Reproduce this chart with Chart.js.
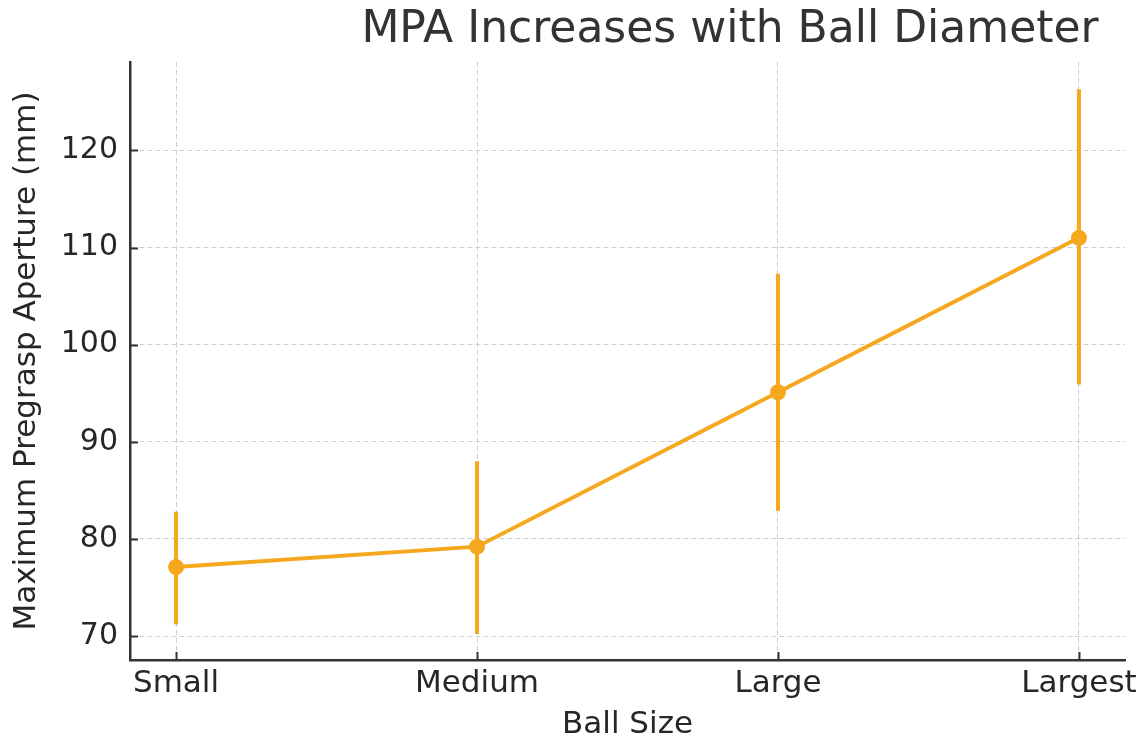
<!DOCTYPE html>
<html>
<head>
<meta charset="utf-8">
<script src="https://cdn.jsdelivr.net/npm/chart.js@4.4.1/dist/chart.umd.min.js"></script>
<style>
  html, body { margin: 0; padding: 0; background: #fff; }
  #wrap { width: 1148px; height: 744px; }
</style>
</head>
<body>
<div id="wrap"><canvas id="c" width="1148" height="744"></canvas></div>
<script>
/* MPA vs ball size — mean with error bars */
const sizes = ["Small", "Medium", "Large", "Largest"];
const mpaMean = [77.1, 79.2, 95.1, 111.0];
const errLow = [71.2, 70.2, 82.9, 95.9];
const errHigh = [82.8, 88.0, 107.3, 126.3];
const yTicks = [70, 80, 90, 100, 110, 120];

const ORANGE = "#f5a81e";
const FONT = "'DejaVu Sans', sans-serif";

// vertical error bars, drawn under the markers
const errorBars = {
  id: "errorBars",
  beforeDatasetsDraw(chart) {
    const { ctx, scales: { x, y } } = chart;
    ctx.save();
    ctx.strokeStyle = ORANGE;
    ctx.lineWidth = 4;
    sizes.forEach((s, i) => {
      const px = x.getPixelForValue(i);
      ctx.beginPath();
      ctx.moveTo(px, y.getPixelForValue(errLow[i]));
      ctx.lineTo(px, y.getPixelForValue(errHigh[i]));
      ctx.stroke();
    });
    ctx.restore();
  }
};

// short inward tick marks + title
const decor = {
  id: "decor",
  afterDraw(chart) {
    const { ctx, chartArea: a, scales: { x, y } } = chart;
    ctx.save();
    ctx.strokeStyle = "#333";
    ctx.lineWidth = 2;
    ctx.beginPath();
    y.ticks.forEach(t => {
      const py = Math.round(y.getPixelForValue(t.value)) + 0.5;
      ctx.moveTo(a.left, py); ctx.lineTo(a.left + 8, py);
    });
    x.ticks.forEach(t => {
      const px = Math.round(x.getPixelForValue(t.value)) + 0.5;
      ctx.moveTo(px, a.bottom); ctx.lineTo(px, a.bottom - 8);
    });
    ctx.stroke();

    ctx.fillStyle = "#333";
    ctx.font = "44px " + FONT;
    ctx.textAlign = "center";
    ctx.textBaseline = "middle";
    ctx.fillText("MPA Increases with Ball Diameter", 730, 31);
    ctx.restore();
  }
};

new Chart(document.getElementById("c"), {
  type: "line",
  data: {
    datasets: [{
      data: mpaMean.map((v, i) => ({ x: i, y: v })),
      borderColor: ORANGE,
      backgroundColor: ORANGE,
      borderWidth: 4,
      pointRadius: 8,
      pointBorderWidth: 0,
      pointBackgroundColor: ORANGE,
      tension: 0
    }]
  },
  options: {
    responsive: false,
    animation: false,
    layout: { padding: { top: 62, right: 23, left: 0, bottom: 0 } },
    plugins: { legend: { display: false }, tooltip: { enabled: false } },
    scales: {
      x: {
        type: "linear",
        min: -0.153,
        max: 3.153,
        afterBuildTicks: s => { s.ticks = sizes.map((_, i) => ({ value: i })); },
        afterFit: s => { s.height = 84; },
        ticks: {
          callback: v => sizes[v],
          color: "#262626",
          font: { family: FONT, size: 31 },
          padding: 5,
          maxRotation: 0,
          autoSkip: false
        },
        grid: { color: "#cdcdcd", lineWidth: 1, drawTicks: false },
        border: { color: "#333", width: 2.5, dash: [5, 3] },
        title: {
          display: true, text: "Ball Size", color: "#262626",
          font: { family: FONT, size: 31 }, padding: { top: 0, bottom: 0 }
        }
      },
      y: {
        min: 67.53,
        max: 129.1,
        afterBuildTicks: s => { s.ticks = yTicks.map(v => ({ value: v })); },
        afterFit: s => { s.width = 130; },
        ticks: {
          color: "#262626",
          font: { family: FONT, size: 30 },
          padding: 12
        },
        grid: { color: "#cdcdcd", lineWidth: 1, drawTicks: false },
        border: { color: "#333", width: 2.5, dash: [5, 3] },
        title: {
          display: true, text: "Maximum Pregrasp Aperture (mm)", color: "#262626",
          font: { family: FONT, size: 31 }, padding: { top: 8, bottom: 0 }
        }
      }
    }
  },
  plugins: [errorBars, decor]
});
</script>
</body>
</html>
